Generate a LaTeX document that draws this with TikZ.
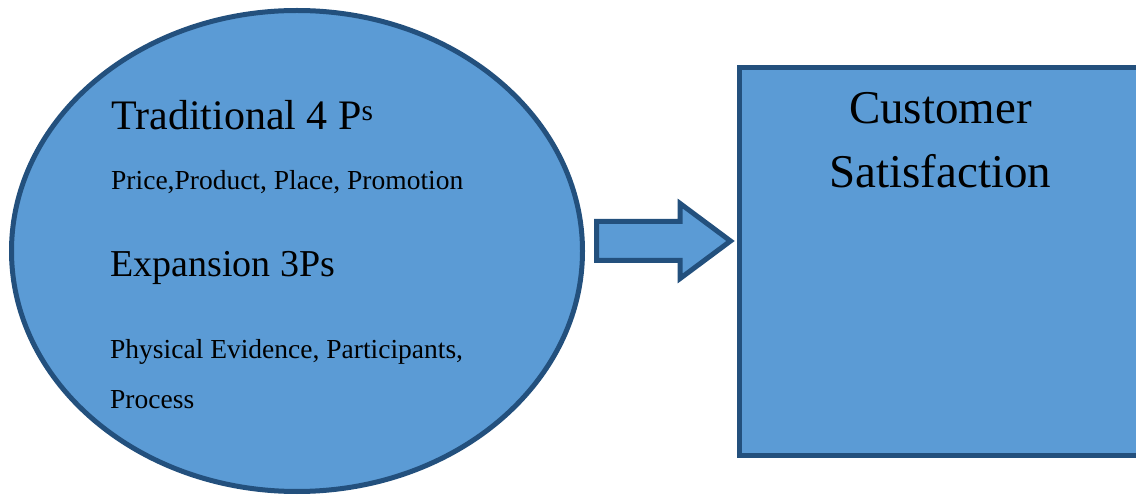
\documentclass[tikz,border=0pt]{standalone}
\usepackage{fontspec}
\setmainfont{Liberation Serif}
\usetikzlibrary{shapes.geometric,shapes.arrows}
\definecolor{shapefill}{HTML}{5B9BD5}
\definecolor{shapeline}{HTML}{23507D}
\tikzset{
  blue shape/.style={draw=shapeline,fill=shapefill,line width=5pt,inner sep=0pt},
  head text/.style={font=\rmfamily\fontsize{42}{50}\selectfont,anchor=base west,inner sep=0pt},
  sub text/.style={font=\rmfamily\fontsize{38}{46}\selectfont,anchor=base west,inner sep=0pt},
  list text/.style={font=\rmfamily\fontsize{27.5}{33}\selectfont,anchor=base west,inner sep=0pt}
}
\begin{document}
\begin{tikzpicture}[x=1pt,y=1pt]
  \useasboundingbox (0,0) rectangle (1136,496);
  \node[blue shape,ellipse,minimum width=571pt,minimum height=481pt] (mix) at (297,245) {};
  \node[blue shape,rectangle,minimum width=403pt,minimum height=388pt] (sat) at (940.5,234.5) {};
  \node[blue shape,single arrow,minimum height=134pt,minimum width=70pt,inner xsep=0pt,inner ysep=17pt,
    single arrow head extend=18pt,single arrow tip angle=73.3,anchor=tail] (arr) at (594,255) {};
  \node[head text] (trad) at (111,366.7) {Traditional 4 P\textsuperscript{s}};
  \node[list text] (four) at (111,306) {Price,Product, Place, Promotion};
  \node[sub text] (expa) at (110,219) {Expansion 3Ps};
  \node[list text] (phys) at (110,137) {Physical Evidence, Participants,};
  \node[list text] (proc) at (110,88) {Process};
  \node[font=\rmfamily\fontsize{47}{64}\selectfont,align=center,anchor=base,inner sep=0pt]
    (cust) at (940.5,308) {Customer\\Satisfaction};
\end{tikzpicture}
\end{document}
